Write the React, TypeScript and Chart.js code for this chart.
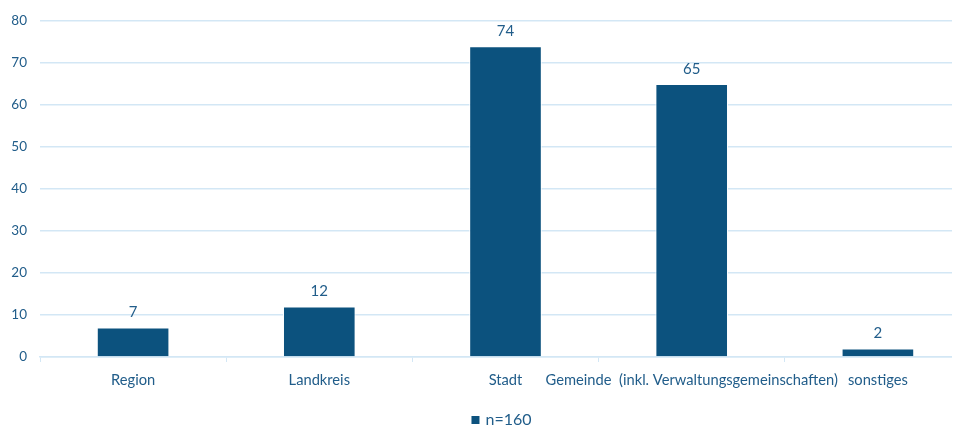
import React, { useEffect, useRef } from "react";
import { Chart, registerables } from "chart.js";

Chart.register(...registerables);

const categories = [
  "Region",
  "Landkreis",
  "Stadt",
  "Gemeinde  (inkl. Verwaltungsgemeinschaften)",
  "sonstiges",
];
const values = [7, 12, 74, 65, 2];
const seriesLabel = "n=160";
const yTicks = { min: 0, max: 80, step: 10 };

const BAR = "#0c527e";
const TEXT = "#215d8a";
const GRID = "#d3e7f5";
const FONT = "Lato, 'Open Sans', sans-serif";

const valueLabels = {
  id: "valueLabels",
  afterDatasetsDraw(chart: any) {
    const ctx = chart.ctx;
    const meta = chart.getDatasetMeta(0);
    ctx.save();
    ctx.font = `15px ${FONT}`;
    ctx.fillStyle = TEXT;
    ctx.textAlign = "center";
    ctx.textBaseline = "middle";
    meta.data.forEach((bar: any, i: number) => {
      ctx.fillText(String(values[i]), bar.x, bar.y - 15);
    });
    ctx.restore();
  },
};

const bottomLegend = {
  id: "bottomLegend",
  afterDraw(chart: any) {
    const ctx = chart.ctx;
    const ds = chart.data.datasets[0];
    const area = chart.chartArea;
    ctx.save();
    ctx.font = `16px ${FONT}`;
    const tw = ctx.measureText(ds.label).width;
    const box = 8;
    const gap = 6;
    const total = box + gap + tw;
    const cx = (area.left + area.right) / 2 - 4;
    const x0 = cx - total / 2;
    const cy = 420;
    ctx.fillStyle = ds.backgroundColor;
    ctx.fillRect(x0, cy - box / 2, box, box);
    ctx.fillStyle = TEXT;
    ctx.textAlign = "left";
    ctx.textBaseline = "middle";
    ctx.fillText(ds.label, x0 + box + gap, cy);
    ctx.restore();
  },
};

export default function App() {
  const ref = useRef<HTMLCanvasElement>(null);
  useEffect(() => {
    if (!ref.current) return;
    const chart = new Chart(ref.current, {
      type: "bar",
      data: {
        labels: categories,
        datasets: [
          {
            label: seriesLabel,
            data: values,
            backgroundColor: BAR,
            borderColor: "#ffffff",
            borderWidth: 1,
            categoryPercentage: 1,
            barPercentage: 0.39,
          },
        ],
      },
      options: {
        responsive: false,
        animation: false,
        layout: { padding: { top: 15, right: 9, left: 0, bottom: 0 } },
        plugins: {
          legend: { display: false },
          tooltip: { enabled: false },
        },
        scales: {
          x: {
            afterFit(scale: any) {
              scale.height = 69;
            },
            grid: {
              drawOnChartArea: false,
              drawTicks: true,
              tickLength: 5,
              color: GRID,
            },
            border: { color: GRID, width: 1.5 },
            ticks: {
              autoSkip: false,
              maxRotation: 0,
              minRotation: 0,
              padding: 9,
              color: TEXT,
              font: { family: FONT, size: 14.7 },
            },
          },
          y: {
            min: yTicks.min,
            max: yTicks.max,
            afterFit(scale: any) {
              scale.width = 40;
            },
            grid: { color: GRID, lineWidth: 1.5, drawTicks: false },
            border: { display: false },
            ticks: {
              stepSize: yTicks.step,
              padding: 13,
              color: TEXT,
              font: { family: FONT, size: 13.5 },
            },
          },
        },
      },
      plugins: [valueLabels, bottomLegend],
    });
    return () => chart.destroy();
  }, []);
  return (
    <div
      style={{
        position: "fixed",
        left: 0,
        top: 0,
        width: 952,
        height: 426,
        overflow: "hidden",
        background: "#fff",
      }}
    >
      <canvas ref={ref} width={980} height={426} style={{ display: "block" }} />
    </div>
  );
}
